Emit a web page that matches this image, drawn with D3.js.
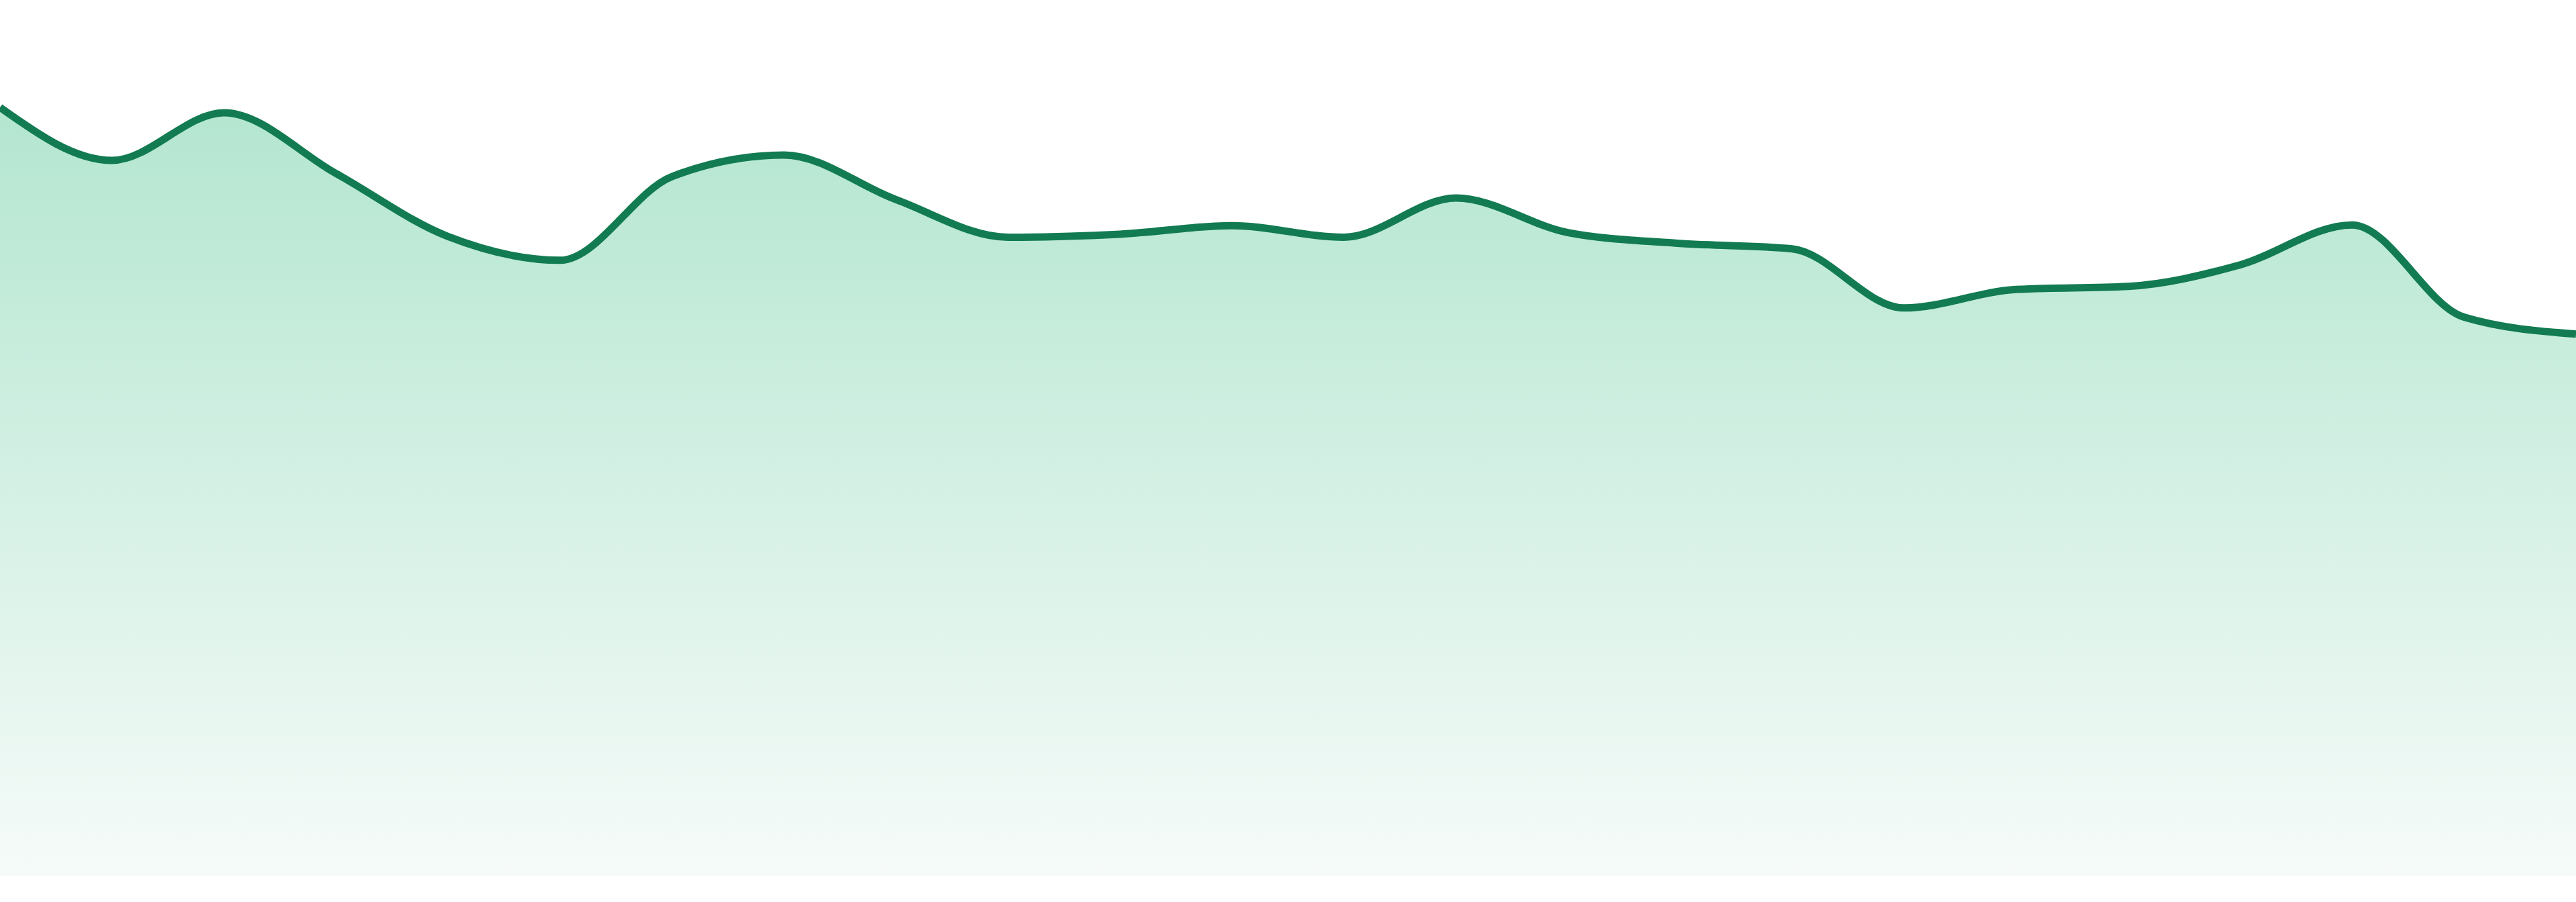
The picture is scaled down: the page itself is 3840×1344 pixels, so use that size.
<!DOCTYPE html>
<html>
<head>
<meta charset="utf-8">
<script src="https://cdn.jsdelivr.net/npm/d3@7"></script>
<style>
  html, body { margin: 0; padding: 0; background: #ffffff; overflow: hidden; }
  svg { display: block; }
</style>
</head>
<body>
<svg width="3840" height="1344"></svg>
<script>
// one point per hour, no axes shown in the chart
const hours = d3.range(24).map(h => String(h).padStart(2, '0') + ':00')
const values = [100.0, 93.1, 99.3, 91.4, 83.2, 80.1, 91.0, 93.8, 88.0, 83.1, 83.5, 84.6,
                83.1, 88.2, 83.7, 82.3, 81.6, 73.9, 76.3, 76.7, 79.5, 84.7, 72.7, 70.5]
const yDomain = [0, 100]

const W = 3840, H = 1344
const plotBottom = 1305, plotTop = 160

const svg = d3.select('svg')

const xScale = d3.scalePoint().domain(hours).range([0, W])
const yScale = d3.scaleLinear().domain(yDomain).range([plotBottom, plotTop])

const data = hours.map((h, i) => ({ hour: h, value: values[i] }))

const grad = svg.append('defs')
                .append('linearGradient')
                .attr('id', 'fillGrad')
                .attr('gradientUnits', 'userSpaceOnUse')
                .attr('x1', 0).attr('x2', 0)
                .attr('y1', plotTop).attr('y2', plotBottom)

grad.append('stop').attr('offset', '0%').attr('stop-color', '#b4e6d0')
grad.append('stop').attr('offset', '15%').attr('stop-color', '#bde9d6')
grad.append('stop').attr('offset', '100%').attr('stop-color', '#f6fbf9')

const area = d3.area()
               .x(d => xScale(d.hour))
               .y0(plotBottom)
               .y1(d => yScale(d.value))
               .curve(d3.curveMonotoneX)

const line = d3.line()
               .x(d => xScale(d.hour))
               .y(d => yScale(d.value))
               .curve(d3.curveMonotoneX)

svg.append('path')
   .datum(data)
   .attr('d', area)
   .attr('fill', 'url(#fillGrad)')

svg.append('path')
   .datum(data)
   .attr('d', line)
   .attr('fill', 'none')
   .attr('stroke', '#127b52')
   .attr('stroke-width', 11)
   .attr('stroke-linejoin', 'round')
</script>
</body>
</html>
